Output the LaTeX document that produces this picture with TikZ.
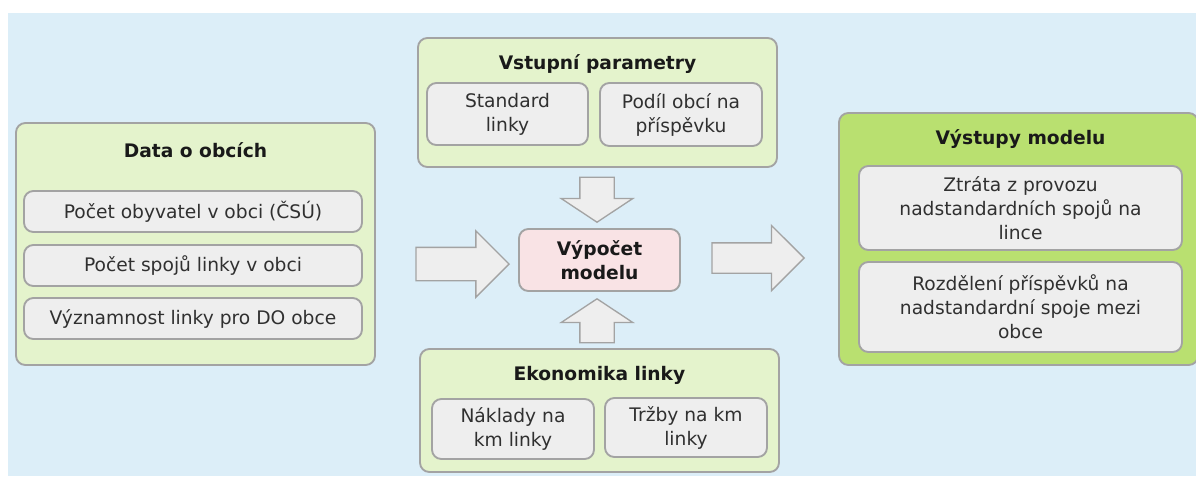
\documentclass[tikz,border=0pt]{standalone}
\usepackage{fontspec}
\setmainfont{DejaVu Sans}
\usetikzlibrary{shapes.arrows}

\definecolor{bgblue}{HTML}{DCEEF8}
\definecolor{lightgreen}{HTML}{E4F3CC}
\definecolor{darkgreen}{HTML}{B9E070}
\definecolor{boxgray}{HTML}{EEEEEE}
\definecolor{edgegray}{HTML}{A3A3A3}
\definecolor{calcpink}{HTML}{F9E3E5}
\definecolor{textgray}{HTML}{303030}

\begin{document}
\begin{tikzpicture}[x = 0.75pt, y = -0.75pt,
        font = \fontsize{14}{18}\selectfont,
        wh/.style 2 args = {minimum width = #1*0.75pt, minimum height = #2*0.75pt},
        group/.style = {draw = edgegray, line width = 1.4pt, rounded corners = 7pt, fill = lightgreen, inner sep = 0pt},
        item/.style = {draw = edgegray, line width = 1.4pt, rounded corners = 7pt, fill = boxgray, inner sep = 0pt, align = center, text = textgray},
        title/.style = {font = \fontsize{14}{18}\selectfont\bfseries, text = black!90},
        bigarrow/.style 2 args = {single arrow, draw = edgegray, line width = 1pt, fill = boxgray, anchor = tip,
            inner xsep = 0pt, inner ysep = #1*0.375pt, minimum height = #2*0.75pt}]
        \useasboundingbox (0,0) rectangle (1196,476);
        \fill [bgblue] (8,13) rectangle (1196,476);
        
        % data o obcich
        \node [group, wh = {359}{242}] (data) at (195.5,244) {};
        \node [title] (data-title) at (195.5,150) {Data o obcích};
        \node [item, wh = {338}{41}] (obyvatel) at (193,211.5) {Počet obyvatel v obci (ČSÚ)};
        \node [item, wh = {338}{41}] (spoje) at (193,265.5) {Počet spojů linky v obci};
        \node [item, wh = {338}{41}] (vyznam) at (193,318.5) {Významnost linky pro DO obce};
        
        % vstupni parametry
        \node [group, wh = {359}{129}] (vstup) at (597.5,102.5) {};
        \node [title] (vstup-title) at (597.5,64) {Vstupní parametry};
        \node [item, wh = {161}{62}] (standard) at (507.5,114) {Standard\\linky};
        \node [item, wh = {162}{63}] (podil) at (681,114.5) {Podíl obcí na\\příspěvku};
        
        % vypocet
        \node [item, fill = calcpink, wh = {161}{62}, font = \fontsize{14}{18}\selectfont\bfseries, text = black!90] (calc) at (599.5,260) {Výpočet\\modelu};
        
        % ekonomika linky
        \node [group, wh = {359}{123}] (ekon) at (599.5,410.5) {};
        \node [title] (ekon-title) at (599.5,375) {Ekonomika linky};
        \node [item, wh = {162}{60}] (naklady) at (513,429) {Náklady na\\km linky};
        \node [item, wh = {162}{59}] (trzby) at (686,427.5) {Tržby na km\\linky};
        
        % vystupy modelu
        \node [group, fill = darkgreen, wh = {359}{252}] (vystup) at (1018.5,239) {};
        \node [title] (vystup-title) at (1020.5,139) {Výstupy modelu};
        \node [item, wh = {323}{84}] (ztrata) at (1020.5,208) {Ztráta z provozu\\nadstandardních spojů na\\lince};
        \node [item, wh = {323}{90}] (rozdeleni) at (1020.5,307) {Rozdělení příspěvků na\\nadstandardní spoje mezi\\obce};
        
        % sipky
        \node [bigarrow = {32}{93}, single arrow head extend = 12.4pt, single arrow tip angle = 90] (in-left) at (510,264) {};
        \node [bigarrow = {29}{92}, single arrow head extend = 13.1pt, single arrow tip angle = 90] (out-right) at (805,258) {};
        \node [bigarrow = {33}{45}, single arrow head extend = 13.9pt, single arrow tip angle = 113, rotate = -90] (in-top) at (597,223) {};
        \node [bigarrow = {33}{44}, single arrow head extend = 13.9pt, single arrow tip angle = 113, rotate = 90] (in-bottom) at (597,298) {};
    \end{tikzpicture}
\end{document}
